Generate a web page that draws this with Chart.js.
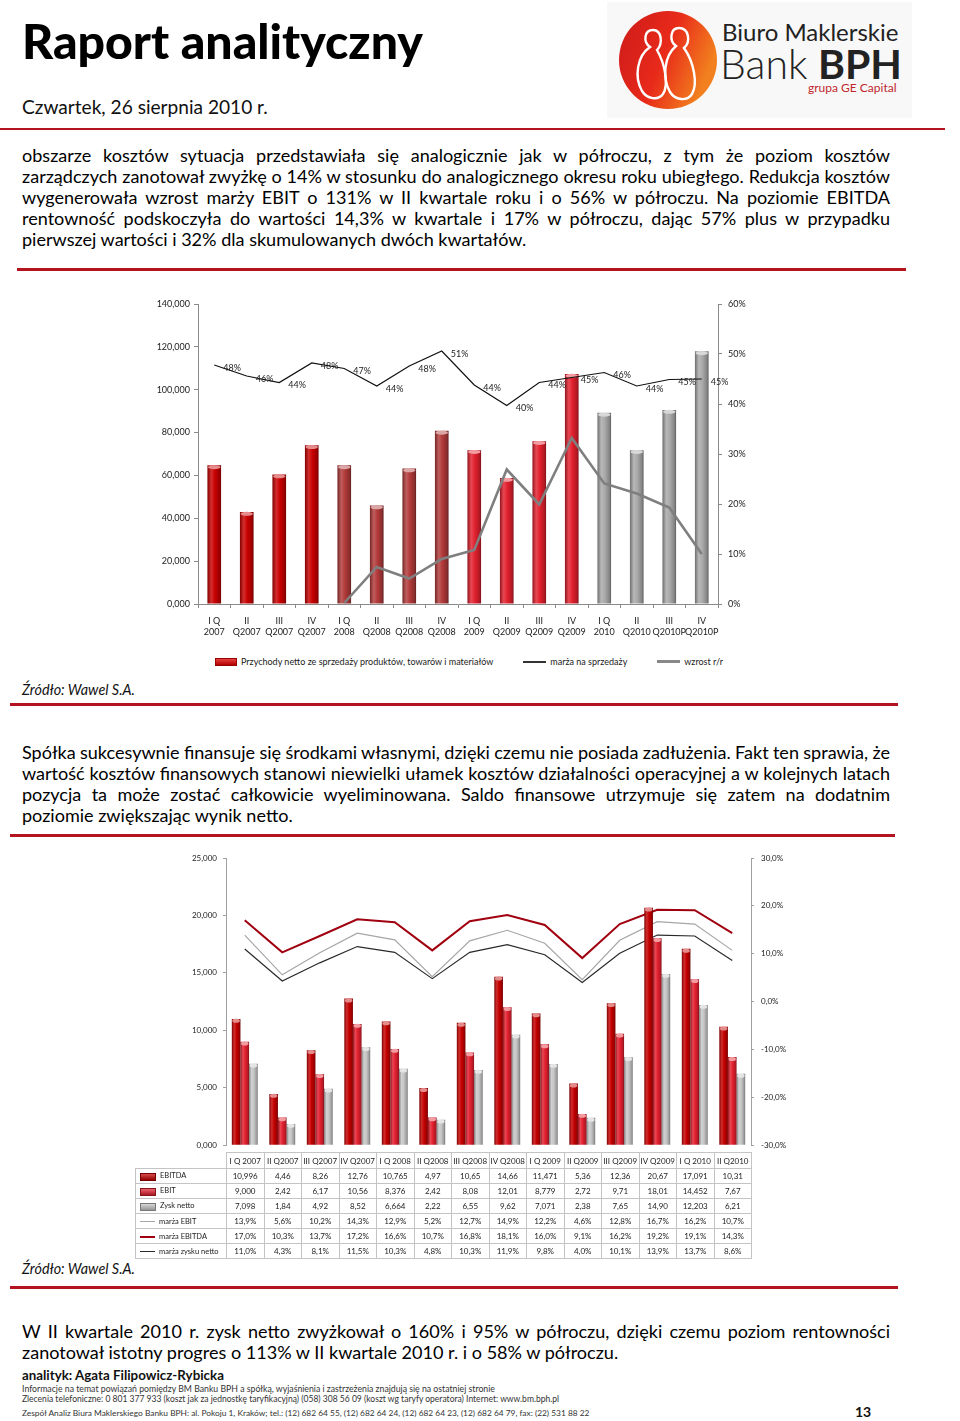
<!DOCTYPE html>
<html><head><meta charset="utf-8">
<script src="https://cdn.jsdelivr.net/npm/chart.js@4"></script>
<style>
html,body{margin:0;padding:0;background:#fff;}
body{width:960px;height:1421px;position:relative;overflow:hidden;font-family:Lato,"Open Sans",sans-serif;color:#111;}
.abs{position:absolute;white-space:nowrap;}
.rule{position:absolute;background:#b3141f;height:3px;}
.jl{position:absolute;left:22px;white-space:nowrap;font-size:16.5px;line-height:20px;color:#000;}
#legend1{position:absolute;left:215px;top:656px;display:flex;gap:30px;align-items:center;font-size:9px;color:#222;white-space:nowrap;}
#legend1 .it{display:flex;align-items:center;gap:4px;}
#tbl{position:absolute;left:135px;top:1152px;border-collapse:collapse;table-layout:fixed;font-size:8px;color:#222;}
#tbl td{border:1px solid #c4c4c4;text-align:center;padding:0;height:14px;white-space:nowrap;overflow:hidden;}
#tbl tr.hd td{height:15px;}
#tbl td.lab{text-align:left;padding-left:4px;font-size:7.5px;}
#tbl td.blank{border:none;}
.sym{display:inline-block;vertical-align:middle;margin-right:4px;}
</style></head>
<body>
<!-- header -->
<div id="title" class="abs" style="left:22px;top:12px;font-size:50px;font-weight:900;line-height:56px;color:#000;">Raport analityczny</div>
<div id="date" class="abs" style="left:22px;top:96px;font-size:19px;line-height:22px;color:#111;">Czwartek, 26 sierpnia 2010 r.</div>
<div class="abs" style="left:607px;top:2px;width:305px;height:116px;background:#f8f8f8;"></div>
<svg class="abs" style="left:615px;top:8px;" width="110" height="106">
<defs><linearGradient id="lg" x1="0" y1="0" x2="1" y2="0.4"><stop offset="0" stop-color="#cc1a1a"/><stop offset="0.55" stop-color="#e82a1a"/><stop offset="1" stop-color="#f2801e"/></linearGradient></defs>
<circle cx="53" cy="52" r="49" fill="url(#lg)"/>
<g fill="none" stroke="#fff" stroke-width="2.4">
<path d="M38 22 c-9 0 -10 12 -3 17 c-13 9 -16 30 -8 44 c5 8 16 10 21 3 c6 -9 2 -30 -6 -44 c6 -6 5 -20 -4 -20z"/>
<path d="M64 20 c-9 0 -10 13 -3 18 c-12 10 -14 32 -6 46 c5 8 17 10 22 2 c6 -10 2 -32 -8 -46 c7 -6 5 -20 -5 -20z"/>
</g></svg>
<div class="abs" style="left:722px;top:18px;font-size:24px;line-height:28px;color:#222;">Biuro Maklerskie</div>
<div class="abs" style="left:720px;top:42px;font-size:41px;line-height:44px;color:#222;"><span style="font-weight:300">Bank</span> <span style="font-weight:700">BPH</span></div>
<div class="abs" style="left:808px;top:81px;font-size:12px;line-height:14px;color:#c0272d;">grupa GE Capital</div>
<div class="rule" style="left:0;top:128px;width:945px;height:2px;"></div>

<div class="rule" style="left:17px;top:268px;width:889px;"></div>

<canvas id="c1" width="620" height="362" style="position:absolute;left:140px;top:290px;"></canvas>
<div id="legend1"></div>
<div id="src1" class="abs" style="left:22px;top:681px;font-size:14px;font-style:italic;line-height:18px;">Źródło: Wawel S.A.</div>
<div class="rule" style="left:10px;top:703px;width:888px;"></div>

<div class="rule" style="left:10px;top:834px;width:885px;"></div>

<canvas id="c2" width="680" height="312" style="position:absolute;left:130px;top:845px;"></canvas>
<table id="tbl"></table>
<div id="src2" class="abs" style="left:22px;top:1260px;font-size:14px;font-style:italic;line-height:18px;">Źródło: Wawel S.A.</div>
<div class="rule" style="left:10px;top:1286px;width:888px;"></div>

<div id="an" class="abs" style="left:22px;top:1367px;font-size:13px;font-weight:700;line-height:16px;">analityk: Agata Filipowicz-Rybicka</div>
<div id="f1" class="abs" style="left:22px;top:1383px;font-size:9px;line-height:11px;color:#333;">Informacje na temat powiązań pomiędzy BM Banku BPH a spółką, wyjaśnienia i zastrzeżenia znajdują się na ostatniej stronie</div>
<div id="f2" class="abs" style="left:22px;top:1394px;font-size:9px;line-height:11px;color:#333;">Zlecenia telefoniczne: 0 801 377 933 (koszt jak za jednostkę taryfikacyjną) (058) 308 56 09 (koszt wg taryfy operatora) Internet: www.bm.bph.pl</div>
<div id="f3" class="abs" style="left:22px;top:1408px;font-size:9px;line-height:11px;color:#333;">Zespół Analiz Biura Maklerskiego Banku BPH: al. Pokoju 1, Kraków; tel.: (12) 682 64 55, (12) 682 64 24, (12) 682 64 23, (12) 682 64 79, fax: (22) 531 88 22</div>
<div class="abs" style="left:855px;top:1404px;font-size:14px;font-weight:700;line-height:16px;">13</div>

<script>
// ===== DATA: chart 1 =====
const c1Categories = [['I Q','2007'],['II','Q2007'],['III','Q2007'],['IV','Q2007'],['I Q','2008'],['II','Q2008'],['III','Q2008'],['IV','Q2008'],['I Q','2009'],['II','Q2009'],['III','Q2009'],['IV','Q2009'],['I Q','2010'],['II','Q2010'],['III','Q2010P'],['IV','Q2010P']];
const c1Revenue = [64700,42900,60400,74100,64700,46000,63200,80800,71800,58800,76000,107300,89200,71800,90500,117900];
const c1SalesMargin = [47.8,45.6,44.3,48.2,47.1,43.6,47.6,50.6,43.8,39.7,44.3,45.3,46.3,43.6,44.9,45.0];
const c1GrowthYoY = [null,null,null,null,0.2,7.4,5.1,9.0,10.8,26.9,19.9,33.2,24.1,22.1,19.3,10.0];
const c1LeftTicks = ['0,000','20,000','40,000','60,000','80,000','100,000','120,000','140,000'];
const c1RightTicks = ['0%','10%','20%','30%','40%','50%','60%'];
const c1SeriesNames = ['Przychody netto ze sprzedaży produktów, towarów i materiałów','marża na sprzedaży','wzrost r/r'];

// ===== DATA: chart 2 =====
const c2Categories = ['I Q 2007','II Q2007','III Q2007','IV Q2007','I Q 2008','II Q2008','III Q2008','IV Q2008','I Q 2009','II Q2009','III Q2009','IV Q2009','I Q 2010','II Q2010'];
const c2Ebitda = ['10,996','4,46','8,26','12,76','10,765','4,97','10,65','14,66','11,471','5,36','12,36','20,67','17,091','10,31'];
const c2Ebit = ['9,000','2,42','6,17','10,56','8,376','2,42','8,08','12,01','8,779','2,72','9,71','18,01','14,452','7,67'];
const c2Net = ['7,098','1,84','4,92','8,52','6,664','2,22','6,55','9,62','7,071','2,38','7,65','14,90','12,203','6,21'];
const c2EbitMargin = ['13,9%','5,6%','10,2%','14,3%','12,9%','5,2%','12,7%','14,9%','12,2%','4,6%','12,8%','16,7%','16,2%','10,7%'];
const c2EbitdaMargin = ['17,0%','10,3%','13,7%','17,2%','16,6%','10,7%','16,8%','18,1%','16,0%','9,1%','16,2%','19,2%','19,1%','14,3%'];
const c2NetMargin = ['11,0%','4,3%','8,1%','11,5%','10,3%','4,8%','10,3%','11,9%','9,8%','4,0%','10,1%','13,9%','13,7%','8,6%'];
const c2LeftTicks = ['0,000','5,000','10,000','15,000','20,000','25,000'];
const c2RightTicks = ['-30,0%','-20,0%','-10,0%','0,0%','10,0%','20,0%','30,0%'];
const c2SeriesNames = ['EBITDA','EBIT','Zysk netto','marża EBIT','marża EBITDA','marża zysku netto'];

// ===== TEXT =====
const para1 = ['obszarze kosztów sytuacja przedstawiała się analogicznie jak w półroczu, z tym że poziom kosztów',
 'zarządczych zanotował zwyżkę o 14% w stosunku do analogicznego okresu roku ubiegłego. Redukcja kosztów',
 'wygenerowała wzrost marży EBIT o 131% w II kwartale roku i o 56% w półroczu. Na poziomie EBITDA',
 'rentowność podskoczyła do wartości 14,3% w kwartale i 17% w półroczu, dając 57% plus w przypadku',
 'pierwszej wartości i 32% dla skumulowanych dwóch kwartałów.'];
const para2 = ['Spółka sukcesywnie finansuje się środkami własnymi, dzięki czemu nie posiada zadłużenia. Fakt ten sprawia, że',
 'wartość kosztów finansowych stanowi niewielki ułamek kosztów działalności operacyjnej a w kolejnych latach',
 'pozycja ta może zostać całkowicie wyeliminowana. Saldo finansowe utrzymuje się zatem na dodatnim',
 'poziomie zwiększając wynik netto.'];
const para3 = ['W II kwartale 2010 r. zysk netto zwyżkował o 160% i 95% w półroczu, dzięki czemu poziom rentowności',
 'zanotował istotny progres o 113% w II kwartale 2010 r. i o 58% w półroczu.'];

// ===== layout helpers =====
function fitWidth(id, target){
  const el=document.getElementById(id);
  const w=el.getBoundingClientRect().width;
  const fs=parseFloat(getComputedStyle(el).fontSize);
  el.style.fontSize=(fs*target/w)+'px';
}
const paraSpecs=[[para1,[155,176,197,218,239]],[para2,[752,773,794,815]],[para3,[1331,1352]]];
const lineEls=[];
paraSpecs.forEach(([lines,ys])=>{
  lines.forEach((t,i)=>{
    const d=document.createElement('div');d.className='jl';d.textContent=t;
    d.style.top=(ys[i]-10)+'px';document.body.appendChild(d);
    lineEls.push({el:d,just:i<lines.length-1});
  });
});
// the second line of the first paragraph is set at almost natural spacing in the source
const refW=lineEls[1].el.getBoundingClientRect().width;
const bodyFs=16.5*866/refW;
lineEls.forEach(o=>{o.el.style.fontSize=bodyFs+'px';});
lineEls.forEach(o=>{
  if(!o.just) return;
  const w=o.el.getBoundingClientRect().width;
  const txt=o.el.textContent;
  const n=(txt.match(/ /g)||[]).length;
  let ws=(868-w)/n;
  if(ws<-1){
    const rest=868-(w-n);
    o.el.style.letterSpacing=(rest-0)/(txt.length)+'px';
    ws=-1;
  }
  o.el.style.wordSpacing=ws+'px';
});
fitWidth('title',401); fitWidth('date',246); fitWidth('src1',113); fitWidth('src2',113);
fitWidth('an',202); fitWidth('f1',473); fitWidth('f2',538); fitWidth('f3',568);

// ===== colour helpers =====
function hex2rgb(h){h=h.replace('#','');return [0,2,4].map(i=>parseInt(h.substr(i,2),16));}
function shade(h,a){const c=hex2rgb(h);const t=a<0?0:255;const k=Math.abs(a);return 'rgb('+c.map(v=>Math.round(v+(t-v)*k)).join(',')+')';}
function cylGrad(ctx,l,r,base){
  const g=ctx.createLinearGradient(l,0,r,0);
  g.addColorStop(0,shade(base,-0.35));
  g.addColorStop(0.28,shade(base,0.18));
  g.addColorStop(0.55,base);
  g.addColorStop(0.88,shade(base,-0.22));
  g.addColorStop(1,shade(base,-0.45));
  return g;
}
function barFill(base,pos,n,catPct){
  return (c)=>{
    const b=typeof base==='function'?base(c.dataIndex):base;
    if(c.type!=='data') return b;
    const ch=c.chart,x=ch.scales.x; if(!x||!ch.chartArea) return b;
    const cw=x.width/x.ticks.length; const gw=cw*catPct; const bw=gw/n;
    const cx=x.getPixelForValue(c.dataIndex); const l=cx-gw/2+pos*bw;
    return cylGrad(ch.ctx,l,l+bw,b);
  };
}
const capPlugin={id:'caps',afterDatasetDraw(chart,args){
  const meta=args.meta; if(meta.type!=='bar') return;
  const ctx=chart.ctx; const ds=chart.data.datasets[args.index];
  meta.data.forEach((el,i)=>{
    const p=el.getProps(['x','y','width'],true);
    const base=typeof ds.capBase==='function'?ds.capBase(i):ds.capBase;
    ctx.save();ctx.beginPath();ctx.ellipse(p.x,p.y+1.8,p.width/2-0.6,2,0,0,Math.PI*2);
    ctx.fillStyle=shade(base,0.55);ctx.fill();ctx.restore();
  });
}};

Chart.defaults.font.family='Lato, "Open Sans", sans-serif';
Chart.defaults.color='#333';

// ===== Chart 1 =====
const yearPalette=['#c80000','#b23a3a','#e2202e','#a9a9a9'];
const c1Color=(i)=>yearPalette[Math.floor(i/4)];
const c1BarPct=0.42;
const labelPlugin={id:'mlabels',afterDatasetDraw(chart,args){
  const ds=chart.data.datasets[args.index]; if(!ds.showLabels) return;
  const ctx=chart.ctx; ctx.save(); ctx.font='9px Lato, sans-serif'; ctx.fillStyle='#222';
  ctx.textBaseline='middle'; ctx.textAlign='left';
  args.meta.data.forEach((el,i)=>{ const v=ds.data[i]; if(v==null) return; ctx.fillText(Math.round(v)+'%',el.x+9,el.y+3); });
  ctx.restore();
}};
new Chart(document.getElementById('c1'),{
  data:{labels:c1Categories,datasets:[
    {type:'bar',label:c1SeriesNames[0],data:c1Revenue,yAxisID:'y',order:3,
     backgroundColor:barFill(c1Color,0,1,c1BarPct),capBase:c1Color,
     categoryPercentage:c1BarPct,barPercentage:1},
    {type:'line',label:c1SeriesNames[1],data:c1SalesMargin,yAxisID:'y1',order:1,
     borderColor:'#111',borderWidth:1.2,pointRadius:0,tension:0,showLabels:true},
    {type:'line',label:c1SeriesNames[2],data:c1GrowthYoY,yAxisID:'y1',order:2,
     borderColor:'#7f7f7f',borderWidth:2.6,pointRadius:0,tension:0,spanGaps:false}
  ]},
  options:{responsive:false,animation:false,devicePixelRatio:1,
    layout:{padding:{top:14,left:0,right:0,bottom:0}},
    plugins:{legend:{display:false},tooltip:{enabled:false}},
    scales:{
      x:{offset:true,grid:{display:true,drawOnChartArea:false,offset:true,tickLength:4,color:'#8a8a8a'},
        border:{color:'#8a8a8a'},
        ticks:{font:{size:9},color:'#222',maxRotation:0,autoSkip:false,padding:8},
        afterFit:(s)=>{s.height=48;}},
      y:{position:'left',min:0,max:140000,grid:{drawOnChartArea:false,tickLength:4,color:'#8a8a8a'},border:{color:'#8a8a8a'},
        ticks:{stepSize:20000,font:{size:9},color:'#222',padding:4,callback:(v,i)=>c1LeftTicks[i]},
        afterFit:(s)=>{s.width=58;}},
      y1:{position:'right',min:0,max:60,grid:{drawOnChartArea:false,tickLength:4,color:'#8a8a8a'},border:{color:'#8a8a8a'},
        ticks:{stepSize:10,font:{size:9},color:'#222',padding:6,callback:(v,i)=>c1RightTicks[i]},
        afterFit:(s)=>{s.width=42;}}
    }},
  plugins:[capPlugin,labelPlugin]
});
// legend 1
(function(){
  const L=document.getElementById('legend1');
  const syms=['<span style="display:inline-block;width:20px;height:6px;background:linear-gradient(#e84040,#b00000);border:0.5px solid #900"></span>',
    '<span style="display:inline-block;width:23px;height:2px;background:#333"></span>',
    '<span style="display:inline-block;width:23px;height:3px;background:#888"></span>'];
  c1SeriesNames.forEach((n,i)=>{const d=document.createElement('div');d.className='it';d.innerHTML=syms[i]+'<span>'+n+'</span>';L.appendChild(d);});
})();

// ===== Chart 2 =====
const num=(s)=>parseFloat(s.replace('%','').replace(',','.'));
const c2CatPct=0.69;
const c2Colors={ebitda:'#c40000',ebit:'#e3202f',net:'#c6c6c6',mEbit:'#a6a6a6',mEbitda:'#a0000f',mNet:'#2a2a2a'};
new Chart(document.getElementById('c2'),{
  data:{labels:c2Categories,datasets:[
    {type:'bar',label:c2SeriesNames[0],data:c2Ebitda.map(num),yAxisID:'y',order:1,backgroundColor:barFill(c2Colors.ebitda,0,3,c2CatPct),capBase:c2Colors.ebitda,categoryPercentage:c2CatPct,barPercentage:1},
    {type:'bar',label:c2SeriesNames[1],data:c2Ebit.map(num),yAxisID:'y',order:1,backgroundColor:barFill(c2Colors.ebit,1,3,c2CatPct),capBase:c2Colors.ebit,categoryPercentage:c2CatPct,barPercentage:1},
    {type:'bar',label:c2SeriesNames[2],data:c2Net.map(num),yAxisID:'y',order:1,backgroundColor:barFill(c2Colors.net,2,3,c2CatPct),capBase:c2Colors.net,categoryPercentage:c2CatPct,barPercentage:1},
    {type:'line',label:c2SeriesNames[3],data:c2EbitMargin.map(num),yAxisID:'y1',order:2,borderColor:c2Colors.mEbit,borderWidth:1.2,pointRadius:0,tension:0},
    {type:'line',label:c2SeriesNames[4],data:c2EbitdaMargin.map(num),yAxisID:'y1',order:2,borderColor:c2Colors.mEbitda,borderWidth:2,pointRadius:0,tension:0},
    {type:'line',label:c2SeriesNames[5],data:c2NetMargin.map(num),yAxisID:'y1',order:2,borderColor:c2Colors.mNet,borderWidth:1.2,pointRadius:0,tension:0}
  ]},
  options:{responsive:false,animation:false,devicePixelRatio:1,
    layout:{padding:{top:13,left:0,right:0,bottom:0}},
    plugins:{legend:{display:false},tooltip:{enabled:false}},
    scales:{
      x:{offset:true,grid:{display:false},border:{display:false},ticks:{display:false},afterFit:(s)=>{s.height=6;}},
      y:{position:'left',min:0,max:25,grid:{drawOnChartArea:false,tickLength:3,color:'#a0a0a0'},border:{color:'#a0a0a0'},
        ticks:{stepSize:5,font:{size:8},color:'#222',padding:6,callback:(v,i)=>c2LeftTicks[i]},
        afterFit:(s)=>{s.width=96;}},
      y1:{position:'right',min:-30,max:30,grid:{drawOnChartArea:false,tickLength:3,color:'#a0a0a0'},border:{color:'#a0a0a0'},
        ticks:{stepSize:10,font:{size:8},color:'#222',padding:7,callback:(v,i)=>c2RightTicks[i]},
        afterFit:(s)=>{s.width=59;}}
    }},
  plugins:[capPlugin]
});
// table under chart 2
(function(){
  const T=document.getElementById('tbl');
  let html='<colgroup><col style="width:91px">'+c2Categories.map(()=>'<col style="width:37.5px">').join('')+'</colgroup>';
  html+='<tr class="hd"><td class="blank"></td>'+c2Categories.map(c=>'<td>'+c+'</td>').join('')+'</tr>';
  const barSym=(col)=>'<span class="sym" style="width:14px;height:6px;background:linear-gradient('+shade(col,0.3)+','+shade(col,-0.25)+');border:0.5px solid '+shade(col,-0.4)+'"></span>';
  const lineSym=(col,w)=>'<span class="sym" style="width:15px;height:'+w+'px;background:'+col+'"></span>';
  const rows=[[c2SeriesNames[0],c2Ebitda,barSym(c2Colors.ebitda)],[c2SeriesNames[1],c2Ebit,barSym(c2Colors.ebit)],[c2SeriesNames[2],c2Net,barSym(c2Colors.net)],
    [c2SeriesNames[3],c2EbitMargin,lineSym(c2Colors.mEbit,1)],[c2SeriesNames[4],c2EbitdaMargin,lineSym(c2Colors.mEbitda,2)],[c2SeriesNames[5],c2NetMargin,lineSym(c2Colors.mNet,1)]];
  rows.forEach(r=>{html+='<tr><td class="lab">'+r[2]+r[0]+'</td>'+r[1].map(v=>'<td>'+v+'</td>').join('')+'</tr>';});
  T.innerHTML=html;
})();
</script>
</body></html>
